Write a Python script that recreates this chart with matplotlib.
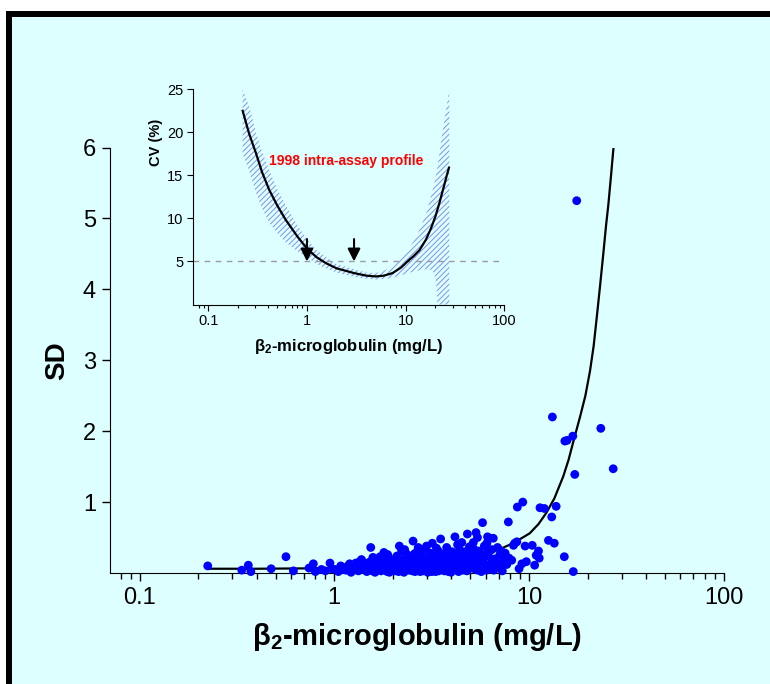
import matplotlib
matplotlib.use('Agg')
import matplotlib.pyplot as plt
from matplotlib.patches import Rectangle

plt.rcParams['font.family'] = ['Liberation Sans', 'DejaVu Sans']
plt.rcParams['mathtext.fontset'] = 'custom'
plt.rcParams['mathtext.rm'] = 'Liberation Sans:bold'
plt.rcParams['mathtext.default'] = 'rm'
plt.rcParams['hatch.linewidth'] = 0.7

bg = '#ddffff'
xlab = 'β$_2$-microglobulin (mg/L)'

# main panel: SD of duplicates vs concentration
sd_x = [0.224, 0.335, 0.362, 0.373, 0.474, 0.565, 0.617, 0.742, 0.781, 0.80, 0.86, 0.90,
        0.951, 0.97, 1.01, 1.05, 1.08, 1.11, 1.15, 1.2, 1.22, 1.26, 1.3, 1.33, 1.38, 1.4,
        1.44, 1.47, 1.5, 1.54, 1.55, 1.6, 1.62, 1.65, 1.68, 1.72, 1.74, 1.78, 1.80, 1.82,
        1.85, 1.9, 1.92, 1.95, 1.98, 2.02, 2.05, 2.1, 2.12, 2.16, 2.18, 2.2, 2.25, 2.28,
        2.3, 2.35, 2.38, 2.42, 2.46, 2.5, 2.54, 2.55, 2.6, 2.62, 2.66, 2.7, 2.72, 2.78,
        2.82, 2.85, 2.9, 2.92, 2.95, 3.0, 3.02, 3.08, 3.12, 3.15, 3.19, 3.2, 3.25, 3.3,
        3.32, 3.38, 3.42, 3.46, 3.52, 3.55, 3.6, 3.65, 3.68, 3.72, 3.78, 3.82, 3.88, 3.92,
        3.98, 4.02, 4.06, 4.1, 4.17, 4.2, 4.25, 4.3, 4.35, 4.4, 4.45, 4.52, 4.55, 4.6,
        4.65, 4.72, 4.8, 4.83, 4.88, 4.95, 5.0, 5.08, 5.18, 5.22, 5.3, 5.35, 5.4, 5.44,
        5.5, 5.55, 5.62, 5.7, 5.78, 5.82, 5.9, 6.0, 6.08, 6.13, 6.2, 6.3, 6.35, 6.45,
        6.56, 6.6, 6.7, 6.8, 6.9, 7.0, 7.1, 7.3, 7.55, 7.7, 7.84, 7.9, 8.16, 8.33, 8.45,
        8.67, 8.72, 8.9, 9.2, 9.3, 9.56, 9.7, 10.4, 10.7, 10.9, 11.2, 11.3, 11.4, 12.0,
        12.6, 13.1, 13.2, 13.5, 13.8, 15.2, 15.3, 15.7, 16.8, 16.9, 17.2, 17.6, 23.4, 27.1,
        1.35, 1.7, 2.08, 2.4, 2.75, 3.1, 3.5, 3.85, 4.15, 4.5, 4.9, 5.6, 6.4, 1.58, 1.88,
        2.22, 2.58, 2.98, 3.35, 3.75, 4.7, 5.2, 5.7, 6.15, 7.4, 7.2,
        1.12, 1.18, 1.24, 1.29, 1.36, 1.42, 1.48, 1.53, 1.57, 1.63, 1.67, 1.76, 1.83, 1.87,
        1.93, 2.0, 2.04, 2.14, 2.19, 2.27, 2.33, 2.37, 2.44, 2.52, 2.57, 2.64, 2.68, 2.76,
        2.8, 2.88, 2.94, 3.04, 3.1, 3.17, 3.23, 3.28, 3.36, 3.44, 3.48, 3.57, 3.63, 3.7,
        3.8, 3.86, 3.95, 4.0, 4.08, 4.22, 4.28, 4.38, 4.48, 4.58, 4.68, 4.78, 4.92, 5.05,
        5.15, 5.28, 5.45, 5.65, 5.85, 6.05, 6.25, 6.5, 6.75, 7.0, 1.9, 2.3, 2.7, 3.4, 4.3]
sd_y = [0.10, 0.04, 0.11, 0.02, 0.06, 0.23, 0.03, 0.07, 0.13, 0.02, 0.05, 0.03,
        0.14, 0.06, 0.05, 0.02, 0.10, 0.08, 0.04, 0.13, 0.01, 0.07, 0.11, 0.03, 0.19, 0.06,
        0.14, 0.02, 0.09, 0.36, 0.05, 0.12, 0.01, 0.17, 0.07, 0.23, 0.03, 0.10, 0.29, 0.15,
        0.05, 0.20, 0.01, 0.12, 0.07, 0.17, 0.03, 0.24, 0.10, 0.38, 0.05, 0.14, 0.19, 0.01,
        0.08, 0.27, 0.12, 0.04, 0.17, 0.22, 0.45, 0.09, 0.02, 0.14, 0.30, 0.06, 0.19, 0.11,
        0.25, 0.03, 0.15, 0.34, 0.08, 0.21, 0.01, 0.12, 0.28, 0.05, 0.42, 0.17, 0.09, 0.24,
        0.02, 0.13, 0.31, 0.06, 0.48, 0.19, 0.10, 0.26, 0.03, 0.15, 0.36, 0.07, 0.21, 0.12,
        0.01, 0.30, 0.17, 0.05, 0.51, 0.24, 0.10, 0.14, 0.02, 0.33, 0.19, 0.43, 0.07, 0.27,
        0.12, 0.22, 0.03, 0.55, 0.16, 0.37, 0.09, 0.26, 0.43, 0.13, 0.05, 0.57, 0.20, 0.50,
        0.31, 0.10, 0.28, 0.02, 0.71, 0.17, 0.38, 0.07, 0.42, 0.51, 0.24, 0.49, 0.13, 0.33,
        0.49, 0.04, 0.20, 0.15, 0.36, 0.09, 0.26, 0.03, 0.28, 0.12, 0.72, 0.21, 0.18, 0.39, 0.42,
        0.44, 0.93, 0.06, 0.13, 1.00, 0.38, 0.16, 0.39, 0.11, 0.25, 0.31, 0.21, 0.92, 0.91,
        0.46, 0.79, 2.20, 0.42, 0.94, 0.23, 1.86, 1.87, 1.93, 0.02, 1.39, 5.25, 2.04, 1.47,
        0.16, 0.12, 0.13, 0.16, 0.14, 0.19, 0.15, 0.18, 0.22, 0.17, 0.13, 0.15, 0.10, 0.22, 0.26,
        0.31, 0.27, 0.38, 0.35, 0.29, 0.30, 0.34, 0.24, 0.29, 0.17, 0.31,
        0.05, 0.10, 0.04, 0.14, 0.08, 0.11, 0.05, 0.16, 0.03, 0.09, 0.13, 0.06, 0.11, 0.02,
        0.08, 0.13, 0.06, 0.02, 0.09, 0.12, 0.04, 0.18, 0.08, 0.03, 0.12, 0.07, 0.16, 0.02,
        0.09, 0.12, 0.05, 0.15, 0.08, 0.02, 0.12, 0.06, 0.09, 0.03, 0.17, 0.08, 0.13, 0.05,
        0.10, 0.02, 0.14, 0.08, 0.11, 0.05, 0.15, 0.08, 0.12, 0.04, 0.10, 0.14, 0.06, 0.19,
        0.08, 0.11, 0.04, 0.07, 0.12, 0.04, 0.09, 0.06, 0.12, 0.07, 0.23, 0.33, 0.36, 0.22, 0.40]

fit_x = [0.228, 0.4, 0.7, 1.0, 1.5, 2.0, 3.0, 4.0, 5.0, 6.0, 7.0, 8.3, 10.1, 11.2, 12.3,
         13.5, 15.0, 16.0, 16.9, 18.3, 19.5, 20.6, 21.5, 22.3, 23.2, 24.1, 24.9, 25.6,
         26.4, 27.2]
fit_y = [0.06, 0.06, 0.065, 0.07, 0.08, 0.10, 0.13, 0.18, 0.23, 0.28, 0.33, 0.42, 0.56,
         0.69, 0.85, 1.05, 1.36, 1.6, 1.85, 2.2, 2.5, 2.85, 3.2, 3.6, 4.05, 4.5, 4.9, 5.2,
         5.6, 6.0]

# inset: CV profile with confidence band
cv_x = [0.223, 0.26, 0.304, 0.35, 0.415, 0.5, 0.612, 0.8, 1.0, 1.25, 1.56, 2.0, 3.0,
        4.0, 5.0, 6.0, 7.37, 9.0, 10.9, 12.0, 13.8, 16.0, 18.0, 20.0, 22.0, 24.0, 26.0,
        27.5]
cv_y = [22.5, 19.8, 17.6, 15.4, 13.3, 11.5, 9.8, 7.9, 6.5, 5.5, 4.8, 4.2, 3.65,
        3.35, 3.26, 3.35, 3.65, 4.3, 5.2, 5.6, 6.3, 7.5, 8.8, 10.2, 11.8, 13.4, 14.9,
        15.9]

band_x = [0.223, 0.26, 0.304, 0.35, 0.415, 0.5, 0.612, 0.8, 1.0, 1.25, 1.56, 2.0, 3.0,
          4.0, 5.0, 6.0, 7.37, 9.0, 10.9, 13, 16.1, 18.5, 19.5, 20.3, 20.8, 21.0, 24, 27.7]
band_lo = [17.5, 15.5, 13.0, 11.2, 9.5, 8.3, 7.2, 6.2, 5.5, 4.7, 4.2, 3.7, 3.2,
           3.0, 2.9, 2.95, 3.1, 3.4, 3.7, 3.9, 4.1, 4.0, 3.6, 2.6, 1.2, 0, 0, 0]
band_hi = [25, 23, 20, 17.8, 15.6, 13.4, 11.5, 9.2, 7.6, 6.3, 5.5, 4.7, 4.1,
           3.7, 3.65, 3.9, 4.4, 5.3, 6.5, 8.0, 10.5, 13, 14, 15, 15.7, 16, 20.5, 25]

arrow_x = [1, 3]

fig = plt.figure(figsize=(7.7, 6.84), dpi=100, facecolor='white')
fig.patches.append(Rectangle((6/770, 0), 1, 1 - 11/684, transform=fig.transFigure,
                             facecolor=bg, edgecolor='none', zorder=-10))
fig.patches.append(Rectangle((6/770, 1 - 17/684), 1, 6/684, transform=fig.transFigure,
                             facecolor='black', edgecolor='none', zorder=-5))
fig.patches.append(Rectangle((6/770, 0), 6/770, 1 - 11/684, transform=fig.transFigure,
                             facecolor='black', edgecolor='none', zorder=-5))

# ---- main axes
ax = fig.add_axes([110/770, 1 - 573/684, 613.6/770, 425.5/684])
ax.set_facecolor('none')
ax.plot(fit_x, fit_y, color='black', lw=1.6, zorder=2)
ax.scatter(sd_x, sd_y, s=40, color='#0000ff', edgecolors='none', zorder=3, clip_on=False)
ax.set_xscale('log')
ax.set_xlim(0.0705, 100)
ax.set_ylim(0, 6)
ax.set_xticks([0.1, 1, 10, 100], ['0.1', '1', '10', '100'])
ax.set_yticks([1, 2, 3, 4, 5, 6])
for s in ['top', 'right']:
    ax.spines[s].set_visible(False)
ax.tick_params(which='major', direction='out', length=6, width=1, labelsize=17, pad=4)
ax.tick_params(which='minor', direction='out', length=4.5, width=1)
ax.set_xlabel(xlab, fontsize=21, fontweight='bold', labelpad=9)
ax.set_ylabel('SD', fontsize=20, fontweight='bold', labelpad=9)

# ---- inset
ins = fig.add_axes([193.3/770, 1 - 304.5/684, 311/770, 215.2/684])
ins.set_facecolor('none')
ins.fill_between(band_x, band_lo, band_hi, facecolor='none', edgecolor='#8190f2',
                 hatch='//////', linewidth=0)
ins.axhline(5, color='#9a9a9a', lw=1, dashes=(4, 4))
ins.plot(cv_x, cv_y, color='black', lw=1.6)
for ax_x in arrow_x:
    ins.annotate('', xy=(ax_x, 5.0), xytext=(ax_x, 7.6),
                 arrowprops=dict(arrowstyle='-|>', color='black', lw=1.5,
                                 mutation_scale=19, shrinkA=0, shrinkB=0))
ins.text(2.48, 16.7, '1998 intra-assay profile', color='red', fontsize=10,
         fontweight='bold', ha='center', va='center')
ins.set_xscale('log')
ins.set_xlim(0.0705, 100)
ins.set_ylim(0, 25)
ins.set_xticks([0.1, 1, 10, 100], ['0.1', '1', '10', '100'])
ins.set_yticks([5, 10, 15, 20, 25])
for s in ['top', 'right']:
    ins.spines[s].set_visible(False)
ins.tick_params(which='major', direction='out', length=4, width=0.8, labelsize=10.5, pad=3)
ins.tick_params(which='minor', direction='out', length=2.5, width=0.8)
ins.set_xlabel(xlab, fontsize=12, fontweight='bold', labelpad=6)
ins.set_ylabel('CV (%)', fontsize=10.5, fontweight='bold')
ins.yaxis.set_label_coords(-0.097, 0.755)

fig.savefig('out.png', dpi=100, facecolor=fig.get_facecolor())
